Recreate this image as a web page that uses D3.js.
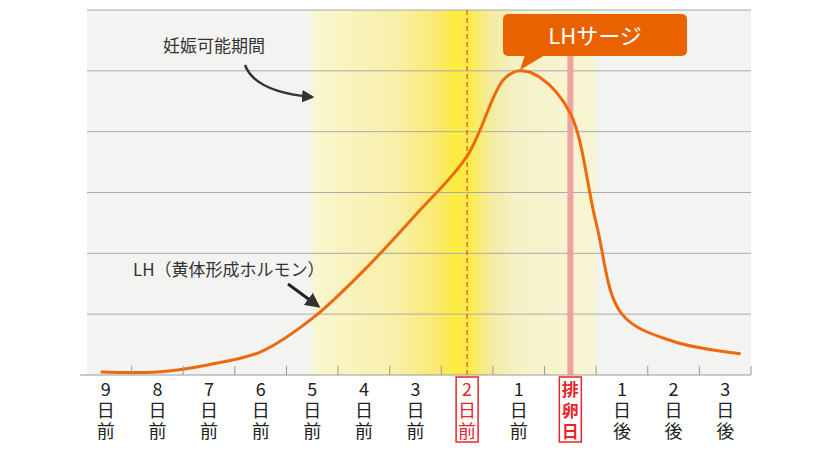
<!DOCTYPE html><html><head><meta charset="utf-8"><script src="https://cdn.jsdelivr.net/npm/d3@7"></script>
<style>body{margin:0;background:#fff}text{font-family:"Noto Sans CJK JP","Noto Sans",sans-serif}</style></head><body><svg id="c" width="830" height="450"></svg><script>
const categories=[["9","日","前"],["8","日","前"],["7","日","前"],["6","日","前"],["5","日","前"],["4","日","前"],["3","日","前"],["2","日","前"],["1","日","前"],["排","卵","日"],["1","日","後"],["2","日","後"],["3","日","後"]];
const highlight=[7,9];
// curve: [category position (index, fractional), LH level]
const lhPos=[-0.1,1,2,3,4,5,6,7,7.7,8,8.4,9,9.5,10,11,12.3];
const lhVal=[0.05,0.05,0.17,0.38,0.93,1.72,2.63,3.6,4.85,5.0,4.9,4.3,2.5,1.0,0.55,0.35];
const yTicks=[0,1,2,3,4,5,6];
const svg=d3.select("#c");
const x=d3.scaleLinear().domain([-0.5,12.5]).range([80,751]);
const y=d3.scaleLinear().domain([0,6]).range([375,10]);
svg.append("rect").attr("x",87).attr("y",y(6)).attr("width",751-87).attr("height",y(0)-y(6)).attr("fill","#f3f3f2");
const defs=svg.append("defs");
const g=defs.append("linearGradient").attr("id","yg");
[[0,"#faf6cf"],[0.3,"#f8f0a8"],[0.45,"#fbe96a"],[0.5,"#fdeb40"],[0.55,"#fdec48"],[0.63,"#f3eba0"],[0.72,"#f5f1c8"],[1,"#f8f5d4"]].forEach(s=>g.append("stop").attr("offset",s[0]).attr("stop-color",s[1]));
svg.append("rect").attr("x",x(4)).attr("y",y(6)).attr("width",x(9.5)-x(4)).attr("height",y(0)-y(6)).attr("fill","url(#yg)");
svg.selectAll(".gl").data(yTicks.slice(1)).enter().append("line").attr("x1",87).attr("x2",751).attr("y1",d=>y(d)).attr("y2",d=>y(d)).attr("stroke","#aaa").attr("stroke-width",1);
svg.append("line").attr("x1",x(7)).attr("x2",x(7)).attr("y1",y(6)).attr("y2",y(0)).attr("stroke","#e8242a").attr("stroke-dasharray","5,3");
svg.append("line").attr("x1",x(9)).attr("x2",x(9)).attr("y1",50).attr("y2",y(0)).attr("stroke","#f0a0a0").attr("stroke-width",6);
const pts=lhPos.map((p,i)=>[x(p),y(lhVal[i])]);
svg.append("path").attr("d",d3.line().curve(d3.curveCatmullRom)(pts)).attr("fill","none").attr("stroke","#ec6a0c").attr("stroke-width",3);
svg.append("line").attr("x1",80).attr("x2",751).attr("y1",375).attr("y2",375).attr("stroke","#999");
d3.range(13).forEach(i=>svg.append("line").attr("x1",x(i+0.5)).attr("x2",x(i+0.5)).attr("y1",366).attr("y2",375).attr("stroke","#999"));
categories.forEach((c,i)=>{const hl=highlight.includes(i);const cx=x(i);
 if(hl)svg.append("rect").attr("x",cx-11).attr("y",377).attr("width",22).attr("height",65).attr("fill","#fff").attr("stroke","#e8242a").attr("stroke-width",1.5);
 c.forEach((t,j)=>svg.append("text").attr("x",cx).attr("y",396+j*21).attr("text-anchor","middle").attr("font-size",i==9?17:18).attr("font-weight",i==9?"bold":"normal").attr("fill",hl?"#e8242a":"#222").text(t));});
// callout
svg.append("path").attr("d","M525,55 L520,70 L545,55 Z").attr("fill","#ea6200");
svg.append("rect").attr("x",503).attr("y",14).attr("width",184).attr("height",42).attr("rx",5).attr("fill","#ea6200");
svg.append("text").attr("x",595).attr("y",44).attr("text-anchor","middle").attr("font-size",22).attr("fill","#fff").text("LHサージ");
// annotations
defs.append("marker").attr("id","ah").attr("viewBox","0 0 10 10").attr("refX",8).attr("refY",5).attr("markerWidth",5).attr("markerHeight",5).attr("orient","auto").append("path").attr("d","M0,0 L10,5 L0,10 Z").attr("fill","#333");
svg.append("text").attr("x",163).attr("y",52).attr("font-size",17).attr("fill","#333").text("妊娠可能期間");
svg.append("path").attr("d","M245,65 Q255,92 312,97").attr("fill","none").attr("stroke","#333").attr("stroke-width",2.5).attr("marker-end","url(#ah)");
svg.append("text").attr("x",133).attr("y",276).attr("font-size",17).attr("fill","#333").text("LH（黄体形成ホルモン）");
svg.append("line").attr("x1",288).attr("y1",284).attr("x2",318).attr("y2",306).attr("stroke","#222").attr("stroke-width",3).attr("marker-end","url(#ah)");
</script></body></html>
